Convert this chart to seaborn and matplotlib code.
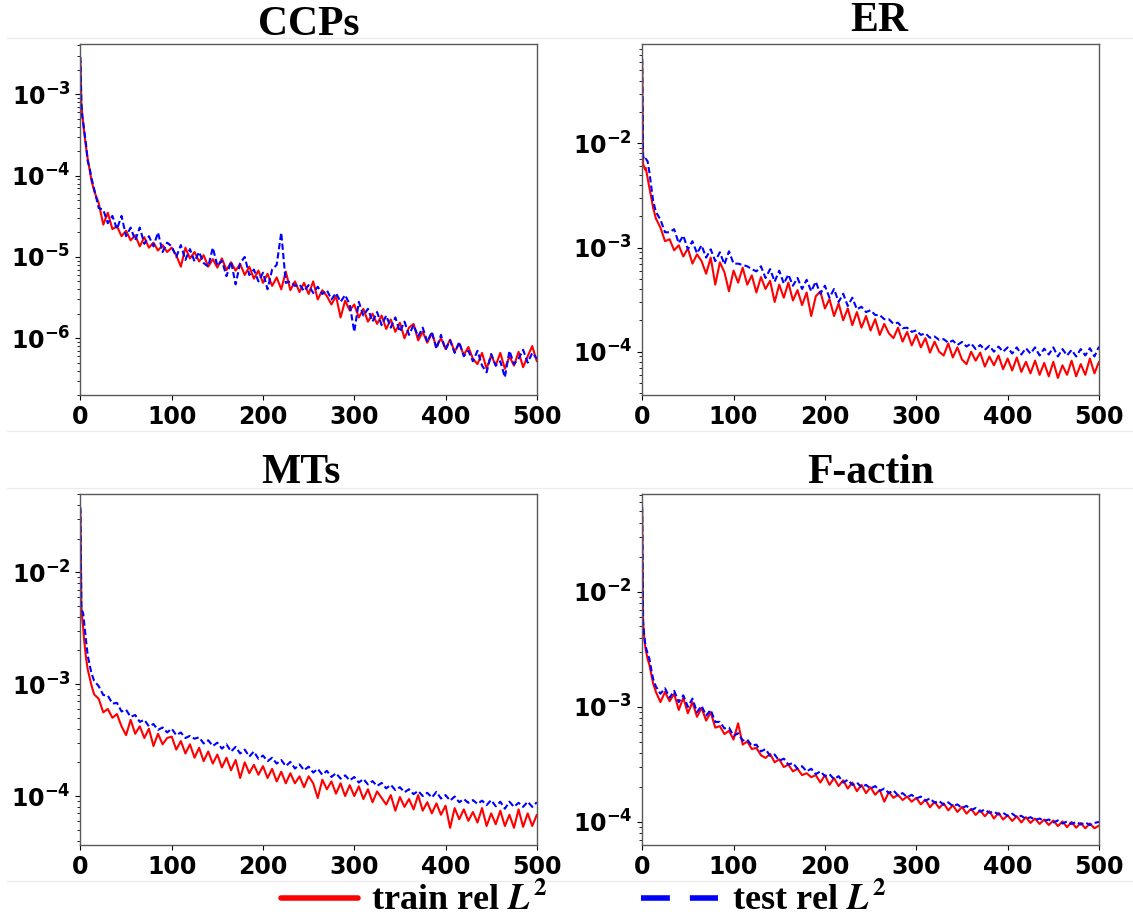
import matplotlib
matplotlib.use("Agg")
import matplotlib.pyplot as plt
import seaborn as sns
from matplotlib.lines import Line2D

EPOCHS = [0, 1, 2, 3, 4, 6, 8, 10, 12, 15,
          20, 25, 30, 35, 40, 45, 50, 55, 60, 65, 70, 75, 80, 85, 90, 95,
          100, 105, 110, 115, 120, 125, 130, 135, 140, 145, 150, 155, 160, 165, 170, 175, 180, 185, 190, 195,
          200, 205, 210, 215, 220, 225, 230, 235, 240, 245, 250, 255, 260, 265, 270, 275, 280, 285, 290, 295,
          300, 305, 310, 315, 320, 325, 330, 335, 340, 345, 350, 355, 360, 365, 370, 375, 380, 385, 390, 395,
          400, 405, 410, 415, 420, 425, 430, 435, 440, 445, 450, 455, 460, 465, 470, 475, 480, 485, 490, 495, 500]

CCPS_TRAIN = [2.6e-3, 7.6e-4, 5.6e-4, 4.4e-4, 3.5e-4, 2.3e-4, 1.6e-4, 1.2e-4, 8.8e-5, 6.5e-5,
              4.6e-5, 2.5e-5, 3.5e-5, 2.2e-5, 2.4e-5, 1.8e-5, 2.1e-5, 1.6e-5, 1.85e-5, 1.35e-5, 1.75e-5, 1.3e-5, 1.5e-5, 1.2e-5, 1.4e-5, 1.15e-5,
              1.3e-5, 1.05e-5, 7.6e-6, 1.3e-5, 9.6e-6, 1.15e-5, 8.8e-6, 1.05e-5, 7.6e-6, 9.4e-6, 7.4e-6, 9.6e-6, 6.9e-6, 8.6e-6, 6.8e-6, 8.2e-6, 6.0e-6, 7.6e-6, 5.4e-6, 6.8e-6,
              4.8e-6, 6.2e-6, 4.4e-6, 5.6e-6, 4.0e-6, 6.6e-6, 3.9e-6, 5.0e-6, 3.7e-6, 4.8e-6, 3.5e-6, 5.0e-6, 3.0e-6, 3.9e-6, 3.3e-6, 2.6e-6, 3.3e-6, 1.8e-6, 2.9e-6, 2.2e-6,
              2.6e-6, 1.8e-6, 2.3e-6, 1.6e-6, 2.0e-6, 1.5e-6, 1.9e-6, 1.3e-6, 1.7e-6, 1.2e-6, 1.55e-6, 1.0e-6, 1.35e-6, 1.5e-6, 9.4e-7, 1.2e-6, 8.8e-7, 1.15e-6, 7.8e-7, 1.0e-6,
              7.4e-7, 9.6e-7, 6.8e-7, 8.6e-7, 6.2e-7, 7.8e-7, 5.6e-7, 4.8e-7, 6.6e-7, 4.2e-7, 6.2e-7, 4.6e-7, 6.6e-7, 4.2e-7, 6.0e-7, 4.6e-7, 6.8e-7, 4.4e-7, 6.0e-7, 8.0e-7, 5.2e-7]
CCPS_TEST = [2.9e-3, 8.0e-4, 5.4e-4, 4.6e-4, 3.7e-4, 2.5e-4, 1.5e-4, 1.25e-4, 9.4e-5, 6.9e-5,
             4.0e-5, 3.8e-5, 2.6e-5, 3.2e-5, 2.2e-5, 3.2e-5, 1.8e-5, 2.3e-5, 1.6e-5, 2.3e-5, 1.45e-5, 1.8e-5, 1.35e-5, 2.0e-5, 1.15e-5, 1.5e-5,
             1.35e-5, 1.0e-5, 1.4e-5, 9.2e-6, 1.25e-5, 8.8e-6, 1.15e-5, 8.4e-6, 7.6e-6, 1.3e-5, 7.8e-6, 9.0e-6, 5.8e-6, 8.8e-6, 4.6e-6, 8.4e-6, 1.0e-5, 6.0e-6, 7.0e-6, 5.0e-6,
             6.4e-6, 4.0e-6, 7.0e-6, 8.0e-6, 2.0e-5, 4.8e-6, 5.0e-6, 4.4e-6, 4.6e-6, 3.8e-6, 4.5e-6, 3.6e-6, 4.3e-6, 3.5e-6, 3.9e-6, 3.0e-6, 3.6e-6, 2.8e-6, 3.4e-6, 2.6e-6,
             1.2e-6, 2.8e-6, 1.9e-6, 2.3e-6, 1.6e-6, 2.1e-6, 1.45e-6, 1.9e-6, 1.35e-6, 1.8e-6, 1.2e-6, 1.6e-6, 1.1e-6, 1.45e-6, 1.05e-6, 1.35e-6, 9.0e-7, 1.2e-6, 7.4e-7, 1.1e-6,
             7.2e-7, 9.4e-7, 6.6e-7, 9.0e-7, 6.0e-7, 7.0e-7, 5.2e-7, 7.0e-7, 4.6e-7, 3.8e-7, 6.4e-7, 4.6e-7, 5.2e-7, 3.3e-7, 7.0e-7, 4.8e-7, 5.6e-7, 7.2e-7, 5.0e-7, 6.6e-7, 5.6e-7]

ER_TRAIN = [6.2e-2, 6.3e-3, 6.0e-3, 5.6e-3, 5.8e-3, 4.6e-3, 3.7e-3, 3.0e-3, 2.4e-3, 1.9e-3,
            1.55e-3, 1.15e-3, 1.2e-3, 9.4e-4, 1.05e-3, 8.2e-4, 9.8e-4, 7.0e-4, 8.6e-4, 7.4e-4, 5.6e-4, 8.0e-4, 4.4e-4, 7.2e-4, 5.8e-4, 3.8e-4,
            6.0e-4, 4.6e-4, 6.4e-4, 4.4e-4, 5.4e-4, 3.7e-4, 5.2e-4, 4.0e-4, 4.8e-4, 3.0e-4, 4.4e-4, 3.3e-4, 4.6e-4, 3.1e-4, 3.9e-4, 2.8e-4, 3.7e-4, 2.2e-4, 3.4e-4, 3.8e-4,
            2.6e-4, 3.2e-4, 2.2e-4, 2.9e-4, 2.0e-4, 2.6e-4, 1.8e-4, 2.4e-4, 1.7e-4, 2.2e-4, 1.6e-4, 2.05e-4, 1.45e-4, 1.85e-4, 1.5e-4, 1.35e-4, 1.7e-4, 1.25e-4, 1.55e-4, 1.15e-4,
            1.45e-4, 1.1e-4, 1.35e-4, 9.8e-5, 1.25e-4, 1.0e-4, 9.2e-5, 1.2e-4, 8.8e-5, 1.1e-4, 8.4e-5, 7.6e-5, 1.0e-4, 8.2e-5, 9.8e-5, 7.2e-5, 9.0e-5, 7.4e-5, 9.2e-5, 6.8e-5,
            8.6e-5, 6.6e-5, 8.8e-5, 6.4e-5, 8.0e-5, 6.2e-5, 8.2e-5, 6.0e-5, 7.8e-5, 5.8e-5, 8.0e-5, 5.6e-5, 7.4e-5, 6.0e-5, 8.2e-5, 5.8e-5, 7.6e-5, 6.0e-5, 8.6e-5, 6.2e-5, 8.0e-5]
ER_TEST = [6.5e-2, 7.6e-3, 7.0e-3, 6.9e-3, 7.1e-3, 6.7e-3, 5.2e-3, 3.8e-3, 2.8e-3, 2.2e-3,
           1.85e-3, 1.4e-3, 1.4e-3, 1.5e-3, 1.1e-3, 1.3e-3, 9.6e-4, 1.15e-3, 8.8e-4, 1.05e-3, 8.0e-4, 9.6e-4, 7.4e-4, 9.0e-4, 6.9e-4, 9.2e-4,
           7.0e-4, 7.0e-4, 6.8e-4, 6.6e-4, 6.2e-4, 5.9e-4, 6.6e-4, 5.1e-4, 6.2e-4, 4.7e-4, 6.0e-4, 4.5e-4, 5.5e-4, 4.3e-4, 5.1e-4, 4.0e-4, 4.9e-4, 3.8e-4, 4.7e-4, 3.6e-4,
           4.3e-4, 3.3e-4, 4.0e-4, 3.0e-4, 3.6e-4, 2.75e-4, 3.3e-4, 2.55e-4, 2.7e-4, 2.4e-4, 2.5e-4, 2.25e-4, 2.25e-4, 2.05e-4, 2.05e-4, 1.85e-4, 1.9e-4, 1.68e-4, 1.7e-4, 1.55e-4,
           1.6e-4, 1.45e-4, 1.5e-4, 1.36e-4, 1.4e-4, 1.3e-4, 1.32e-4, 1.22e-4, 1.28e-4, 1.16e-4, 1.24e-4, 1.12e-4, 1.2e-4, 1.06e-4, 1.16e-4, 1.04e-4, 1.14e-4, 1.0e-4, 1.12e-4, 1.0e-4,
           1.1e-4, 9.6e-5, 1.1e-4, 9.4e-5, 1.08e-4, 9.6e-5, 1.1e-4, 9.2e-5, 1.07e-4, 9.4e-5, 1.1e-4, 9.0e-5, 1.06e-4, 9.2e-5, 1.04e-4, 9.0e-5, 1.06e-4, 9.2e-5, 1.08e-4, 9.0e-5, 1.12e-4]

MTS_TRAIN = [3.6e-2, 5.0e-3, 3.8e-3, 3.2e-3, 2.5e-3, 1.75e-3, 1.35e-3, 1.15e-3, 9.8e-4, 8.1e-4,
             7.4e-4, 5.6e-4, 6.0e-4, 5.0e-4, 5.4e-4, 4.2e-4, 3.5e-4, 4.8e-4, 3.6e-4, 4.2e-4, 3.3e-4, 4.0e-4, 2.8e-4, 3.6e-4, 2.9e-4, 3.3e-4,
             3.4e-4, 2.6e-4, 3.1e-4, 2.4e-4, 2.9e-4, 2.2e-4, 2.7e-4, 2.05e-4, 2.5e-4, 1.95e-4, 2.35e-4, 1.8e-4, 2.2e-4, 1.7e-4, 2.1e-4, 1.45e-4, 2.0e-4, 1.6e-4, 1.9e-4, 1.55e-4,
             1.85e-4, 1.45e-4, 1.75e-4, 1.35e-4, 1.65e-4, 1.3e-4, 1.6e-4, 1.3e-4, 1.5e-4, 1.2e-4, 1.5e-4, 1.3e-4, 9.6e-5, 1.4e-4, 1.15e-4, 1.35e-4, 1.05e-4, 1.3e-4, 1.0e-4, 1.25e-4,
             1.0e-4, 1.22e-4, 9.4e-5, 1.15e-4, 8.8e-5, 1.1e-4, 9.6e-5, 8.4e-5, 1.02e-4, 7.4e-5, 9.8e-5, 8.0e-5, 9.4e-5, 7.6e-5, 1.02e-4, 7.4e-5, 8.8e-5, 7.0e-5, 8.6e-5, 6.8e-5,
             8.2e-5, 5.2e-5, 7.8e-5, 6.2e-5, 7.6e-5, 6.0e-5, 7.2e-5, 5.8e-5, 7.8e-5, 5.4e-5, 7.0e-5, 5.6e-5, 7.4e-5, 5.4e-5, 6.8e-5, 5.2e-5, 7.6e-5, 5.3e-5, 7.0e-5, 5.4e-5, 6.8e-5]
MTS_TEST = [3.8e-2, 4.7e-3, 4.5e-3, 4.3e-3, 3.6e-3, 2.5e-3, 1.8e-3, 1.5e-3, 1.26e-3, 1.07e-3,
            9.6e-4, 8.0e-4, 7.9e-4, 6.7e-4, 6.8e-4, 5.7e-4, 5.9e-4, 5.1e-4, 5.3e-4, 4.6e-4, 4.8e-4, 4.2e-4, 4.4e-4, 3.9e-4, 4.1e-4, 3.7e-4,
            4.0e-4, 3.5e-4, 3.7e-4, 3.3e-4, 3.45e-4, 3.25e-4, 3.35e-4, 2.95e-4, 3.15e-4, 2.8e-4, 3.0e-4, 2.65e-4, 2.9e-4, 2.5e-4, 2.75e-4, 2.4e-4, 2.6e-4, 2.25e-4, 2.5e-4, 2.15e-4,
            2.3e-4, 2.05e-4, 2.2e-4, 1.95e-4, 2.1e-4, 1.85e-4, 2.02e-4, 1.76e-4, 1.92e-4, 1.7e-4, 1.83e-4, 1.62e-4, 1.75e-4, 1.55e-4, 1.68e-4, 1.48e-4, 1.6e-4, 1.43e-4, 1.53e-4, 1.38e-4,
            1.48e-4, 1.32e-4, 1.42e-4, 1.27e-4, 1.36e-4, 1.23e-4, 1.31e-4, 1.17e-4, 1.26e-4, 1.13e-4, 1.2e-4, 1.08e-4, 1.15e-4, 1.04e-4, 1.11e-4, 1.0e-4, 1.07e-4, 9.7e-5, 1.09e-4, 9.5e-5,
            1.02e-4, 9.1e-5, 9.9e-5, 8.8e-5, 9.4e-5, 8.7e-5, 9.2e-5, 8.5e-5, 9.1e-5, 8.3e-5, 9.2e-5, 8.1e-5, 8.9e-5, 7.7e-5, 8.9e-5, 8.0e-5, 8.7e-5, 8.0e-5, 8.9e-5, 8.0e-5, 8.8e-5]

FACTIN_TRAIN = [5.2e-2, 5.6e-3, 4.2e-3, 3.5e-3, 3.1e-3, 2.6e-3, 2.3e-3, 1.9e-3, 1.6e-3, 1.35e-3,
                1.1e-3, 1.35e-3, 1.12e-3, 1.3e-3, 9.4e-4, 1.2e-3, 8.8e-4, 1.1e-3, 8.2e-4, 9.8e-4, 7.6e-4, 9.0e-4, 6.6e-4, 6.8e-4, 5.8e-4, 6.2e-4,
                5.2e-4, 7.2e-4, 4.7e-4, 5.0e-4, 4.3e-4, 4.4e-4, 3.8e-4, 3.6e-4, 3.9e-4, 3.3e-4, 3.5e-4, 3.0e-4, 3.15e-4, 2.75e-4, 2.9e-4, 2.55e-4, 2.65e-4, 2.45e-4, 2.55e-4, 2.2e-4,
                2.55e-4, 2.1e-4, 2.4e-4, 2.05e-4, 2.3e-4, 1.95e-4, 2.2e-4, 1.85e-4, 2.1e-4, 1.78e-4, 2.0e-4, 1.72e-4, 1.9e-4, 1.5e-4, 1.82e-4, 1.62e-4, 1.72e-4, 1.55e-4, 1.66e-4, 1.5e-4,
                1.62e-4, 1.42e-4, 1.56e-4, 1.34e-4, 1.5e-4, 1.32e-4, 1.45e-4, 1.26e-4, 1.4e-4, 1.22e-4, 1.35e-4, 1.18e-4, 1.3e-4, 1.15e-4, 1.26e-4, 1.12e-4, 1.24e-4, 1.07e-4, 1.2e-4, 1.05e-4,
                1.14e-4, 1.02e-4, 1.12e-4, 9.9e-5, 1.1e-4, 9.8e-5, 1.07e-4, 9.6e-5, 1.05e-4, 9.4e-5, 1.03e-4, 9.2e-5, 1.01e-4, 9.0e-5, 1.0e-4, 8.9e-5, 9.8e-5, 8.8e-5, 9.7e-5, 8.8e-5, 9.3e-5]
FACTIN_TEST = [5.5e-2, 5.4e-3, 4.4e-3, 3.7e-3, 3.3e-3, 2.9e-3, 2.6e-3, 2.1e-3, 1.75e-3, 1.5e-3,
               1.3e-3, 1.45e-3, 1.2e-3, 1.38e-3, 1.1e-3, 1.26e-3, 1.0e-3, 1.18e-3, 9.0e-4, 1.02e-3, 8.4e-4, 9.4e-4, 7.4e-4, 7.4e-4, 6.5e-4, 6.6e-4,
               5.6e-4, 5.9e-4, 5.1e-4, 5.2e-4, 4.6e-4, 4.7e-4, 4.1e-4, 4.3e-4, 3.75e-4, 3.85e-4, 3.4e-4, 3.55e-4, 3.15e-4, 3.25e-4, 2.9e-4, 3.05e-4, 2.75e-4, 2.9e-4, 2.6e-4, 2.75e-4,
               2.5e-4, 2.6e-4, 2.35e-4, 2.5e-4, 2.2e-4, 2.32e-4, 2.1e-4, 2.2e-4, 2.0e-4, 2.1e-4, 1.95e-4, 2.05e-4, 1.86e-4, 1.95e-4, 1.78e-4, 1.88e-4, 1.7e-4, 1.78e-4, 1.64e-4, 1.72e-4,
               1.6e-4, 1.66e-4, 1.53e-4, 1.6e-4, 1.47e-4, 1.52e-4, 1.41e-4, 1.48e-4, 1.37e-4, 1.42e-4, 1.32e-4, 1.38e-4, 1.27e-4, 1.32e-4, 1.23e-4, 1.28e-4, 1.2e-4, 1.23e-4, 1.16e-4, 1.2e-4,
               1.13e-4, 1.18e-4, 1.1e-4, 1.13e-4, 1.06e-4, 1.1e-4, 1.04e-4, 1.07e-4, 1.02e-4, 1.05e-4, 9.9e-5, 1.03e-4, 9.7e-5, 1.01e-4, 9.6e-5, 1.0e-4, 9.5e-5, 9.9e-5, 9.4e-5, 9.8e-5, 1.0e-4]

TITLES = ["CCPs", "ER", "MTs", "F-actin"]
LEGEND_LABELS = [r"train rel $L^2$", r"test rel $L^2$"]

sns.set_style("ticks")
plt.rcParams["font.family"] = ["DejaVu Sans"]
plt.rcParams["font.weight"] = "bold"
plt.rcParams["mathtext.fontset"] = "stix"
plt.rcParams["text.color"] = "black"
plt.rcParams["xtick.color"] = "black"
plt.rcParams["ytick.color"] = "black"

fig = plt.figure(figsize=(11.33, 9.21), dpi=100)

# (train, test, ylim, axes rect, title x, title pad)
panels = [
    (CCPS_TRAIN, CCPS_TEST, (2.0e-7, 4.17e-3), [0.0710, 0.5711, 0.4028, 0.3811], 0.50, 6.5),
    (ER_TRAIN, ER_TEST, (3.84e-5, 8.97e-2), [0.5668, 0.5711, 0.4032, 0.3811], 0.52, 9.6),
    (MTS_TRAIN, MTS_TEST, (3.65e-5, 5.0e-2), [0.0710, 0.0825, 0.4028, 0.3811], 0.483, 7.7),
    (FACTIN_TRAIN, FACTIN_TEST, (6.3e-5, 7.08e-2), [0.5668, 0.0825, 0.4032, 0.3811], 0.50, 7.7),
]

for title, (train, test, ylim, rect, tx, pad) in zip(TITLES, panels):
    ax = fig.add_axes(rect)
    sns.lineplot(x=EPOCHS, y=train, ax=ax, color="red", linewidth=1.5)
    sns.lineplot(x=EPOCHS, y=test, ax=ax, color="blue", linewidth=1.5, linestyle=(0, (3, 1.5)))
    ax.set_yscale("log")
    ax.set_xlim(0, 500)
    ax.set_ylim(*ylim)
    ax.set_xticks([0, 100, 200, 300, 400, 500])
    ax.tick_params(labelsize=17, colors="black")
    for sp in ax.spines.values():
        sp.set_color("0.35")
        sp.set_linewidth(1.0)
    ax.set_title(title, family="Liberation Serif", fontweight="bold", fontsize=30, pad=pad, x=tx)

# thin borders between the stitched panels
for yy in [38.3, 430.7, 488.0, 880.7]:
    fig.add_artist(Line2D([7 / 1133, 1], [1 - yy / 921] * 2, transform=fig.transFigure,
                          color="#ebebeb", linewidth=1))

handles = [Line2D([], [], color="red", linewidth=4),
           Line2D([], [], color="blue", linewidth=4, linestyle=(0, (5.2, 3.6)))]
fig.legend(handles, LEGEND_LABELS, loc="center", bbox_to_anchor=(0.515, 0.022), ncol=2,
           frameon=False, handlelength=2.13, columnspacing=2.6, handletextpad=0.37,
           prop={"family": "Liberation Serif", "weight": "bold", "size": 26})

fig.savefig("out.png", dpi=100)
